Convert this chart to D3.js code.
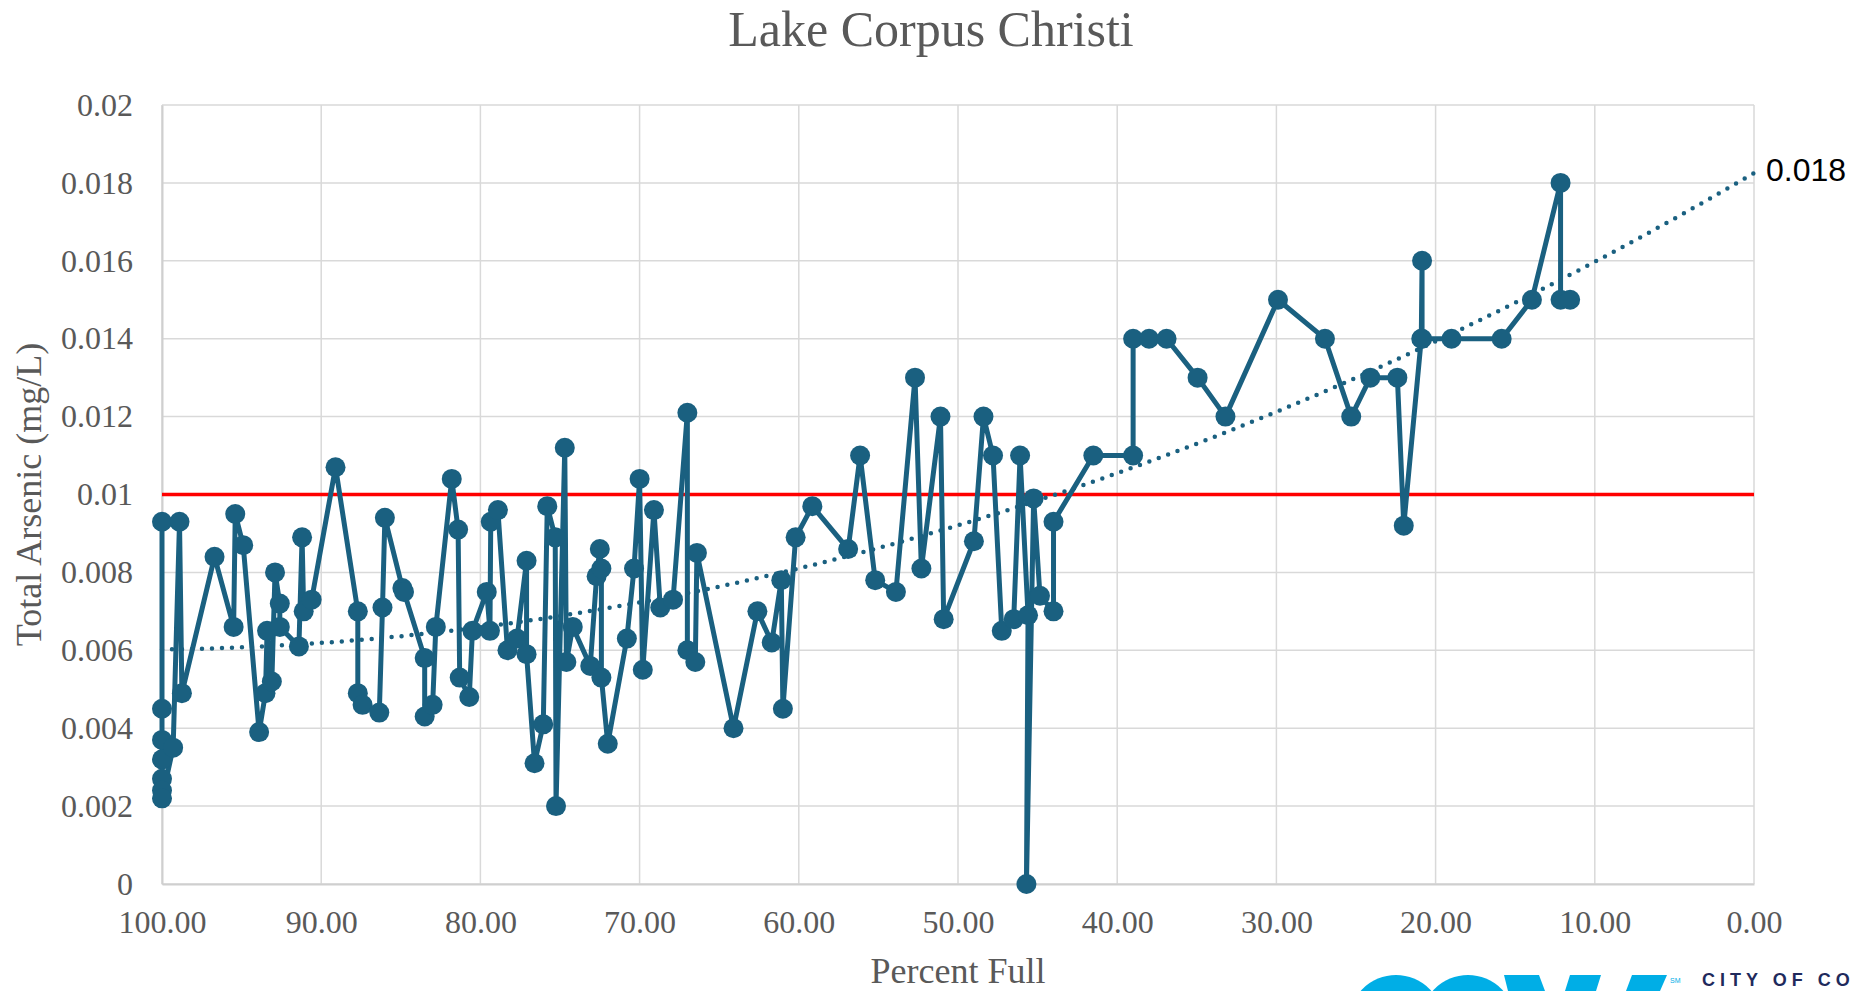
<!DOCTYPE html>
<html>
<head>
<meta charset="utf-8">
<script src="https://cdn.jsdelivr.net/npm/d3@7"></script>
<style>
  body { margin: 0; background: #fff; }
  svg { display: block; }
</style>
</head>
<body>
<svg id="chart" width="1862" height="991"></svg>
<script>
// ---- data ----
// sample order (as plotted, the line goes back and forth)
var pctFull = [
  100.0, 100.0, 100.0, 100.0, 100.0, 100.0, 100.0, 99.3, 98.9, 98.75,
  96.7, 95.5, 95.4, 94.9, 93.9, 93.5, 93.4, 93.1, 92.9, 92.6,
  92.6, 91.4, 91.2, 91.1, 90.6, 89.1, 87.7, 87.7, 87.4, 86.35,
  86.15, 86.0, 84.9, 84.8, 83.5, 83.5, 83.0, 82.8, 81.8, 81.4,
  81.3, 80.7, 80.5, 79.6, 79.4, 79.35, 78.9, 78.3, 77.7, 77.1,
  77.1, 76.6, 76.05, 75.8, 75.3, 75.25, 74.7, 74.6, 74.2, 73.1,
  72.7, 72.5, 72.4, 72.4, 72.0, 70.8, 70.35, 70.0, 69.8, 69.1,
  68.7, 67.9, 67.0, 67.0, 66.5, 66.4, 64.1, 62.6, 61.7, 61.1,
  61.0, 60.2, 59.15, 56.9, 56.15, 55.2, 53.9, 52.7, 52.3, 51.1,
  50.9, 49.0, 48.4, 47.8, 47.25, 46.5, 46.1, 45.6, 45.7, 45.25,
  44.85, 44.0, 44.0, 41.5, 39.0, 39.0, 38.0, 36.9, 34.95, 33.2,
  29.9, 26.95, 25.3, 24.1, 22.4, 22.0, 20.9, 20.85, 20.85, 19.0,
  15.85, 13.95, 12.15, 12.15, 11.55
];
var arsenic = [
  0.0093, 0.0045, 0.0037, 0.0032, 0.0027, 0.0024, 0.0022, 0.0035, 0.0093, 0.0049,
  0.0084, 0.0066, 0.0095, 0.0087, 0.0039, 0.0049, 0.0065, 0.0052, 0.0080, 0.0072,
  0.0066, 0.0061, 0.0089, 0.0070, 0.0073, 0.0107, 0.0070, 0.0049, 0.0046, 0.0044,
  0.0071, 0.0094, 0.0076, 0.0075, 0.0058, 0.0043, 0.0046, 0.0066, 0.0104, 0.0091,
  0.0053, 0.0048, 0.0065, 0.0075, 0.0065, 0.0093, 0.0096, 0.0060, 0.0063, 0.0083,
  0.0059, 0.0031, 0.0041, 0.0097, 0.0089, 0.0020, 0.0112, 0.0057, 0.0066, 0.0056,
  0.0079, 0.0086, 0.0081, 0.0053, 0.0036, 0.0063, 0.0081, 0.0104, 0.0055, 0.0096,
  0.0071, 0.0073, 0.0121, 0.0060, 0.0057, 0.0085, 0.0040, 0.0070, 0.0062, 0.0078,
  0.0045, 0.0089, 0.0097, 0.0086, 0.0110, 0.0078, 0.0075, 0.0130, 0.0081, 0.0120,
  0.0068, 0.0088, 0.0120, 0.0110, 0.0065, 0.0068, 0.0110, 0.0069, 0.0000, 0.0099,
  0.0074, 0.0070, 0.0093, 0.0110, 0.0110, 0.0140, 0.0140, 0.0140, 0.0130, 0.0120,
  0.0150, 0.0140, 0.0120, 0.0130, 0.0130, 0.0092, 0.0140, 0.0160, 0.0140, 0.0140,
  0.0140, 0.0150, 0.0180, 0.0150, 0.0150
];
var mclLimit = [0.01];            // red reference line
var trendLabel = ["0.018"];       // label at end of trend line
var xTickLabels = ["100.00", "90.00", "80.00", "70.00", "60.00", "50.00", "40.00", "30.00", "20.00", "10.00", "0.00"];
var yTickLabels = ["0", "0.002", "0.004", "0.006", "0.008", "0.01", "0.012", "0.014", "0.016", "0.018", "0.02"];

var points = pctFull.map(function(p, i) { return { x: p, y: arsenic[i] }; });

// ---- layout ----
var svg = d3.select("#chart");
var plotLeft = 162, plotRight = 1754, plotTop = 105, plotBottom = 884;
var seriesColor = "#1a6080";
var labelColor = "#595959";
var gridColor = "#d9d9d9";

var x = d3.scaleLinear().domain([100, 0]).range([plotLeft, plotRight]);
var y = d3.scaleLinear().domain([0, 0.02]).range([plotBottom, plotTop]);

var xTicks = xTickLabels.map(Number);
var yTicks = yTickLabels.map(Number);

// *********** GRID *************
svg.append("g")
  .selectAll("line.h")
  .data(yTicks)
  .enter().append("line")
  .attr("x1", plotLeft).attr("x2", plotRight)
  .attr("y1", function(d) { return y(d); })
  .attr("y2", function(d) { return y(d); })
  .attr("stroke", gridColor)
  .attr("stroke-width", 1.5);

svg.append("g")
  .selectAll("line.v")
  .data(xTicks)
  .enter().append("line")
  .attr("y1", plotTop).attr("y2", plotBottom)
  .attr("x1", function(d) { return x(d); })
  .attr("x2", function(d) { return x(d); })
  .attr("stroke", gridColor)
  .attr("stroke-width", 1.5);

// *********** AXES *************
var xAxis = svg.append("g")
  .attr("transform", "translate(0," + plotBottom + ")")
  .call(d3.axisBottom(x).tickValues(xTicks).tickSize(0).tickPadding(26)
    .tickFormat(function(d, i) { return xTickLabels[i]; }));

var yAxis = svg.append("g")
  .attr("transform", "translate(" + plotLeft + ",0)")
  .call(d3.axisLeft(y).tickValues(yTicks).tickSize(0).tickPadding(29)
    .tickFormat(function(d, i) { return yTickLabels[i]; }));

[xAxis, yAxis].forEach(function(ax) {
  ax.select(".domain").attr("stroke", "#cfcfcf").attr("stroke-width", 2);
  ax.selectAll("text")
    .style("font-family", "Liberation Serif, Times New Roman, serif")
    .style("font-size", "32px")
    .attr("fill", labelColor);
});

// *********** LIMIT LINE *************
svg.append("g")
  .selectAll("line")
  .data(mclLimit)
  .enter().append("line")
  .attr("x1", x(100)).attr("x2", x(0))
  .attr("y1", function(d) { return y(d); })
  .attr("y2", function(d) { return y(d); })
  .attr("stroke", "#ff0000")
  .attr("stroke-width", 3.5);

// *********** TREND (2nd order least squares, like Excel) *************
function polyFit2(pts) {
  var s = [0, 0, 0, 0, 0], t = [0, 0, 0];
  pts.forEach(function(p) {
    var xp = 1;
    for (var k = 0; k < 5; k++) { s[k] += xp; if (k < 3) t[k] += xp * p.y; xp *= p.x; }
  });
  var m = [[s[0], s[1], s[2], t[0]], [s[1], s[2], s[3], t[1]], [s[2], s[3], s[4], t[2]]];
  for (var c = 0; c < 3; c++) {
    for (var r = c + 1; r < 3; r++) {
      var f = m[r][c] / m[c][c];
      for (var k = c; k < 4; k++) m[r][k] -= f * m[c][k];
    }
  }
  var coef = [0, 0, 0];
  for (var r2 = 2; r2 >= 0; r2--) {
    var v = m[r2][3];
    for (var k2 = r2 + 1; k2 < 3; k2++) v -= m[r2][k2] * coef[k2];
    coef[r2] = v / m[r2][r2];
  }
  return coef;
}
var coef = polyFit2(points);
var trendPts = d3.range(100, -0.5, -1).map(function(p) {
  return { x: p, y: coef[0] + coef[1] * p + coef[2] * p * p };
});

svg.append("path")
  .datum(trendPts)
  .attr("fill", "none")
  .attr("stroke", seriesColor)
  .attr("stroke-width", 4.5)
  .attr("stroke-linecap", "round")
  .attr("stroke-dasharray", "0,10")
  .attr("d", d3.line().x(function(d) { return x(d.x); }).y(function(d) { return y(d.y); }));

svg.append("text")
  .attr("x", x(0) + 12)
  .attr("y", y(trendPts[trendPts.length - 1].y) + 8)
  .style("font-family", "Liberation Sans, Arial, sans-serif")
  .style("font-size", "32px")
  .attr("fill", "#000")
  .text(trendLabel[0]);

// *********** SERIES *************
svg.append("path")
  .datum(points)
  .attr("fill", "none")
  .attr("stroke", seriesColor)
  .attr("stroke-width", 5)
  .attr("stroke-linejoin", "round")
  .attr("d", d3.line().x(function(d) { return x(d.x); }).y(function(d) { return y(d.y); }));

svg.append("g")
  .selectAll("circle")
  .data(points)
  .enter().append("circle")
  .attr("cx", function(d) { return x(d.x); })
  .attr("cy", function(d) { return y(d.y); })
  .attr("r", 10)
  .attr("fill", seriesColor);

// *********** TITLES *************
svg.append("text")
  .attr("x", 931).attr("y", 46)
  .attr("text-anchor", "middle")
  .style("font-family", "Liberation Serif, Times New Roman, serif")
  .style("font-size", "50px")
  .attr("fill", labelColor)
  .text("Lake Corpus Christi");

svg.append("text")
  .attr("x", (plotLeft + plotRight) / 2).attr("y", 983)
  .attr("text-anchor", "middle")
  .style("font-family", "Liberation Serif, Times New Roman, serif")
  .style("font-size", "36px")
  .attr("fill", labelColor)
  .text("Percent Full");

svg.append("text")
  .attr("transform", "translate(41," + ((plotTop + plotBottom) / 2) + ") rotate(-90)")
  .attr("text-anchor", "middle")
  .style("font-family", "Liberation Serif, Times New Roman, serif")
  .style("font-size", "36px")
  .attr("fill", labelColor)
  .text("Total Arsenic (mg/L)");

// *********** LOGO (cut off at bottom edge) *************
var logo = svg.append("g").attr("fill", "#00aee6");
logo.append("circle").attr("cx", 1396).attr("cy", 1022).attr("r", 47);
logo.append("circle").attr("cx", 1468).attr("cy", 1022).attr("r", 47);
logo.append("polygon").attr("points", "1504,975 1539,975 1545,991 1508,991");
logo.append("polygon").attr("points", "1570,975 1601,975 1596,991 1565,991");
logo.append("polygon").attr("points", "1632,975 1667,975 1660,991 1626,991");
svg.append("text")
  .attr("x", 1670).attr("y", 983)
  .style("font-family", "Liberation Sans, Arial, sans-serif")
  .style("font-size", "7px")
  .attr("fill", "#00aee6")
  .text("SM");
svg.append("text")
  .attr("x", 1702).attr("y", 986)
  .style("font-family", "Liberation Sans, Arial, sans-serif")
  .style("font-size", "18px")
  .style("font-weight", "bold")
  .style("letter-spacing", "5px")
  .attr("fill", "#1f2a5c")
  .text("CITY OF CO");
</script>
</body>
</html>
